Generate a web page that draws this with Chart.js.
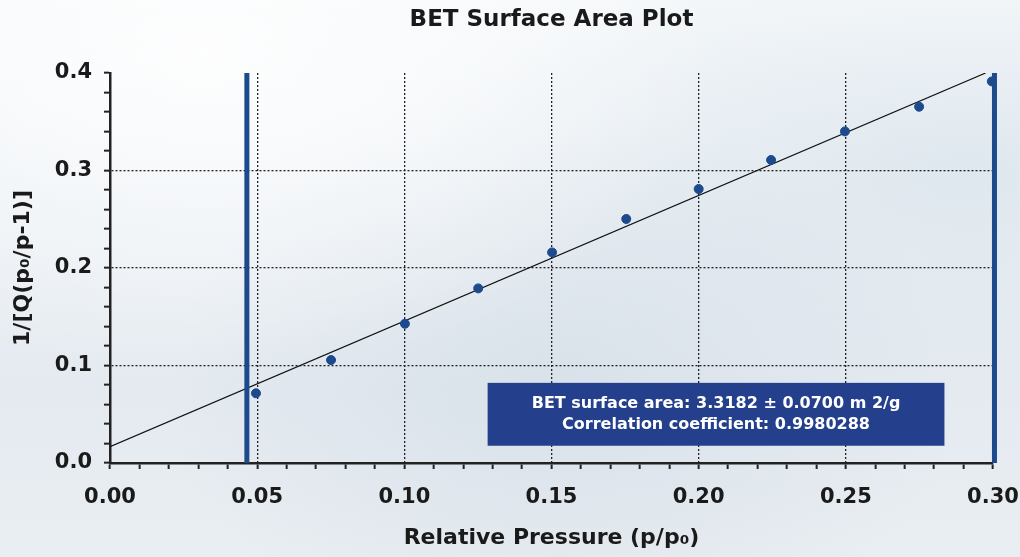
<!DOCTYPE html>
<html>
<head>
<meta charset="utf-8">
<script src="https://cdn.jsdelivr.net/npm/chart.js@4"></script>
<style>
    html, body {
        margin: 0;
        padding: 0;
    }
    body {
        width: 1020px;
        height: 557px;
        overflow: hidden;
        background:
            radial-gradient(ellipse at 20% 10%, rgba(255,255,255,0.85), rgba(255,255,255,0) 45%),
            radial-gradient(ellipse at 55% 70%, rgba(205,216,227,0.5), rgba(205,216,227,0) 50%),
            radial-gradient(ellipse at 95% 30%, rgba(210,222,232,0.5), rgba(210,222,232,0) 40%),
            linear-gradient(180deg, #f5f8fa 0%, #ecf1f5 35%, #e4eaf0 70%, #e9eef2 100%);
    }
    .grafico {
        position: relative;
        width: 1020px;
        height: 557px;
    }
</style>
</head>
<body>
<div class="grafico">
    <canvas id="graficoBET"></canvas>
</div>
<script>
// Pontos medidos (p/p0 e 1/[Q(p0/p-1)])
const pressaoRelativa = [0.0496, 0.0751, 0.1002, 0.1251, 0.1502, 0.1754, 0.2000, 0.2246, 0.2497, 0.2749, 0.2996];
const valoresBET = [0.0715, 0.1056, 0.1428, 0.1791, 0.2160, 0.2503, 0.2810, 0.3108, 0.3401, 0.3654, 0.3914];

// Reta ajustada (extremos)
const retaX = [0, 0.2975];
const retaY = [0.0167, 0.4];

// Limites da faixa usada no ajuste
const limitesFaixa = [0.0465, 0.3005];

// Eixos
const ticksX = [0.00, 0.05, 0.10, 0.15, 0.20, 0.25, 0.30];
const ticksY = [0.0, 0.1, 0.2, 0.3, 0.4];

// Caixa de resultado
const textoResultado = [
    'BET surface area: 3.3182 \u00b1 0.0700 m 2/g',
    'Correlation coefficient: 0.9980288'
];

const azul = '#1c4a8d';
const fonte = '"DejaVu Sans", sans-serif';

function ehMajor(valor, lista) {
    return lista.some(t => Math.abs(t - valor) < 1e-6);
}

// Caixa azul com o resultado, posicionada pelas escalas
const caixaResultado = {
    id: 'caixaResultado',
    afterDatasetsDraw(chart) {
        const ctx = chart.ctx;
        const x = chart.scales.x;
        const y = chart.scales.y;
        const esq = x.getPixelForValue(0.1283);
        const dir = x.getPixelForValue(0.2835);
        const topo = y.getPixelForValue(0.0822);
        const base = y.getPixelForValue(0.0177);
        ctx.save();
        ctx.fillStyle = '#243f8c';
        ctx.fillRect(esq, topo, dir - esq, base - topo);
        ctx.fillStyle = '#ffffff';
        ctx.font = 'bold 16px ' + fonte;
        ctx.textAlign = 'center';
        ctx.textBaseline = 'middle';
        const cx = (esq + dir) / 2;
        const cy = (topo + base) / 2;
        ctx.fillText(textoResultado[0], cx, cy - 10.5);
        ctx.fillText(textoResultado[1], cx, cy + 10.5);
        ctx.restore();
    }
};

// Grade pontilhada só nos valores principais
function corGrade(lista, lo, hi) {
    return function(c) {
        const v = c.tick ? c.tick.value : null;
        if (v === null) return 'transparent';
        if (!ehMajor(v, lista) || v < lo || v > hi) return 'transparent';
        return '#222222';
    };
}

const ctx = document.getElementById('graficoBET').getContext('2d');
const chart = new Chart(ctx, {
    type: 'scatter',
    data: {
        datasets: [
            {
                label: 'Limite inferior',
                type: 'line',
                data: [{ x: limitesFaixa[0], y: ticksY[0] }, { x: limitesFaixa[0], y: ticksY[4] }],
                borderColor: azul,
                borderWidth: 5,
                pointRadius: 0,
                clip: 10,
                order: 1
            },
            {
                label: 'Limite superior',
                type: 'line',
                data: [{ x: limitesFaixa[1], y: ticksY[0] }, { x: limitesFaixa[1], y: ticksY[4] }],
                borderColor: azul,
                borderWidth: 5,
                pointRadius: 0,
                clip: 10,
                order: 0
            },
            {
                label: 'Ajuste',
                type: 'line',
                data: retaX.map((v, i) => ({ x: v, y: retaY[i] })),
                borderColor: '#111111',
                borderWidth: 1.2,
                pointRadius: 0,
                order: 3
            },
            {
                label: 'Dados',
                data: pressaoRelativa.map((v, i) => ({ x: v, y: valoresBET[i] })),
                backgroundColor: azul,
                borderColor: azul,
                pointRadius: 4.5,
                pointHoverRadius: 4.5,
                order: 2
            }
        ]
    },
    options: {
        responsive: true,
        maintainAspectRatio: false,
        animation: false,
        layout: {
            padding: { left: 0, right: 27, top: 0, bottom: 0 }
        },
        scales: {
            x: {
                type: 'linear',
                min: 0,
                max: 0.3,
                afterFit: function(scale) {
                    scale.height = 94;
                    scale.paddingLeft = 0;
                    scale.paddingRight = 0;
                },
                ticks: {
                    stepSize: 0.01,
                    autoSkip: false,
                    maxRotation: 0,
                    padding: 16,
                    color: '#1a1a1a',
                    font: { family: fonte, size: 21, weight: 'bold' },
                    callback: function(value) {
                        return ehMajor(value, ticksX) ? value.toFixed(2) : '';
                    }
                },
                grid: {
                    color: corGrade(ticksX, 0.01, 0.29),
                    tickColor: '#222222',
                    tickLength: 6,
                    tickWidth: 2,
                    lineWidth: 1.3,
                    tickBorderDash: []
                },
                border: { display: true, color: '#222222', width: 2.5, dash: [2, 2] },
                title: {
                    display: true,
                    text: 'Relative Pressure (p/p\u2080)',
                    color: '#1a1a1a',
                    font: { family: fonte, size: 22, weight: 'bold' },
                    padding: { top: 0, bottom: 6 }
                }
            },
            y: {
                type: 'linear',
                min: 0,
                max: 0.4,
                afterFit: function(scale) {
                    scale.width = 110;
                    scale.paddingTop = 0;
                    scale.paddingBottom = 0;
                },
                ticks: {
                    stepSize: 0.02,
                    autoSkip: false,
                    padding: 12,
                    color: '#1a1a1a',
                    font: { family: fonte, size: 21, weight: 'bold' },
                    callback: function(value) {
                        return ehMajor(value, ticksY) ? value.toFixed(1) : '';
                    }
                },
                grid: {
                    color: corGrade(ticksY, 0.01, 0.39),
                    tickColor: '#222222',
                    tickLength: 6,
                    tickWidth: 2,
                    lineWidth: 1.3,
                    tickBorderDash: []
                },
                border: { display: true, color: '#222222', width: 2.5, dash: [2, 2] },
                title: {
                    display: true,
                    text: '1/[Q(p\u2080/p-1)]',
                    color: '#1a1a1a',
                    font: { family: fonte, size: 22, weight: 'bold' },
                    padding: { top: 10, bottom: 0 }
                }
            }
        },
        plugins: {
            legend: { display: false },
            tooltip: { enabled: false },
            title: {
                display: true,
                text: 'BET Surface Area Plot',
                fullSize: false,
                color: '#1a1a1a',
                font: { family: fonte, size: 23, weight: 'bold' },
                padding: { top: 6, bottom: 39.4 }
            }
        }
    },
    plugins: [caixaResultado]
});
</script>
</body>
</html>
